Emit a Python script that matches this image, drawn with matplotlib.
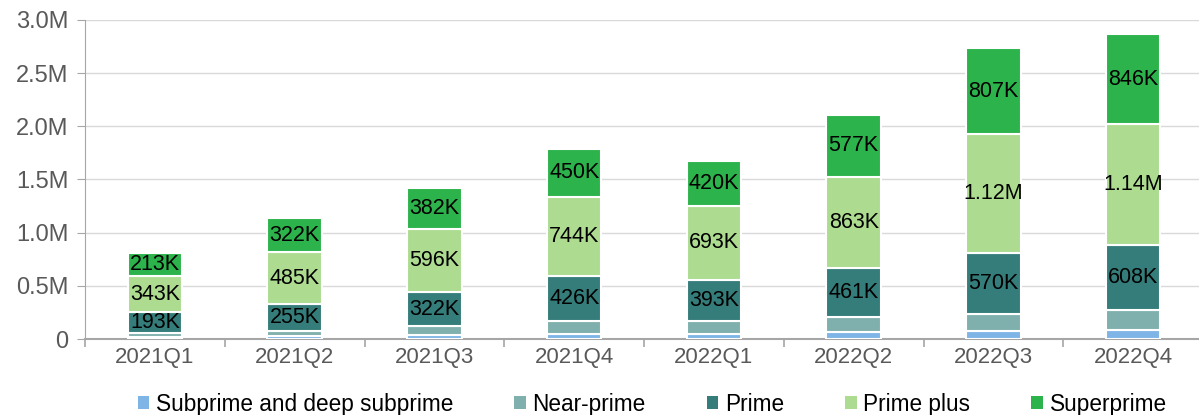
import numpy as np
import matplotlib.pyplot as plt
from matplotlib.patches import Patch

plt.rcParams['font.family'] = ['Liberation Sans', 'DejaVu Sans']

quarters = ["2021Q1", "2021Q2", "2021Q3", "2021Q4", "2022Q1", "2022Q2", "2022Q3", "2022Q4"]
subprime = [18e3, 28e3, 35e3, 50e3, 50e3, 63e3, 72e3, 82e3]
near_prime = [40e3, 47e3, 85e3, 120e3, 115e3, 140e3, 165e3, 190e3]
prime = [193e3, 255e3, 322e3, 426e3, 393e3, 461e3, 570e3, 608e3]
prime_plus = [343e3, 485e3, 596e3, 744e3, 693e3, 863e3, 1.12e6, 1.14e6]
superprime = [213e3, 322e3, 382e3, 450e3, 420e3, 577e3, 807e3, 846e3]

series = [
    ("Subprime and deep subprime", subprime, "#7fb5e6", False),
    ("Near-prime", near_prime, "#80b0ad", False),
    ("Prime", prime, "#357d7a", True),
    ("Prime plus", prime_plus, "#addc91", True),
    ("Superprime", superprime, "#2db34b", True),
]


def fmt(v):
    if v >= 1e6:
        return "%.2fM" % (v / 1e6)
    return "%dK" % round(v / 1e3)


fig = plt.figure(figsize=(11.99, 4.15), dpi=100)
ax = fig.add_axes([85 / 1199, 76 / 415, 1118 / 1199, 319 / 415])

x = np.arange(len(quarters))
bottom = np.zeros(len(quarters))
for name, vals, color, show in series:
    vals = np.array(vals)
    ax.bar(x, vals, width=0.39, bottom=bottom, color=color,
           edgecolor="white", linewidth=1.5, zorder=3)
    if show:
        for xi, b, v in zip(x, bottom, vals):
            ax.text(xi, b + v / 2, fmt(v), ha="center", va="center",
                    fontsize=15.5, color="black", zorder=4)
    bottom += vals

ax.set_xlim(-0.5, len(quarters) - 0.5)
ax.set_ylim(0, 3.0e6)
yt = np.arange(0, 3.01e6, 0.5e6)
ax.set_yticks(yt)
ax.set_yticklabels(["0"] + ["%.1fM" % (v / 1e6) for v in yt[1:]])
ax.set_xticks(x)
ax.set_xticklabels(quarters)
ax.set_xticks(np.arange(-0.5, len(quarters)), minor=True)

ax.grid(axis="y", color="#d9d9d9", linewidth=1, zorder=0)
for s in ["top", "right"]:
    ax.spines[s].set_visible(False)
ax.spines["left"].set_color("#a6a6a6")
ax.spines["bottom"].set_color("#a6a6a6")
ax.spines["bottom"].set_linewidth(1.5)
ax.tick_params(axis="y", colors="#a6a6a6", labelcolor="#595959",
               labelsize=17, length=6, pad=6)
ax.tick_params(axis="x", which="major", length=0, labelcolor="#595959",
               labelsize=16, pad=6)
ax.tick_params(axis="x", which="minor", length=6, color="#a6a6a6", width=1.2)

handles = [Patch(facecolor=c, edgecolor="none") for _, _, c, _ in series]
labels = [n for n, _, _, _ in series]
fig.legend(handles, labels, loc="center", bbox_to_anchor=(0.544, 0.026), ncol=5,
           frameon=False, fontsize=16.3, handlelength=0.5, handleheight=0.5,
           handletextpad=0.3, columnspacing=2.7)

fig.savefig("out.png", dpi=100)
